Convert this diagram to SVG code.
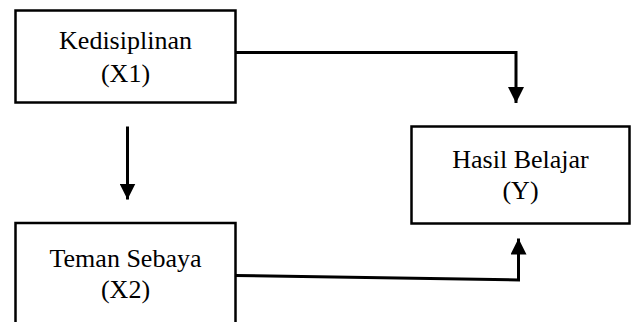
<svg xmlns="http://www.w3.org/2000/svg" width="631" height="322" viewBox="0 0 631 322">
  <style>
    .box { fill: #fff; stroke: #000; stroke-width: 2.5; }
    .lbl { font-family: "Liberation Serif", "Times New Roman", serif; font-size: 26px; fill: #000; text-anchor: middle; }
    .wire { fill: none; stroke: #000; stroke-width: 3; }
  </style>
  <defs>
    <marker id="head" markerWidth="16" markerHeight="16" viewBox="0 0 16 16" refX="16" refY="8" orient="auto" markerUnits="userSpaceOnUse">
      <path d="M0,0 L16,8 L0,16 Z" fill="#000"/>
    </marker>
  </defs>

  <rect width="631" height="322" fill="#fff"/>

  <g id="kedisiplinan">
    <rect class="box" x="15.5" y="10.5" width="220" height="92"/>
    <text class="lbl" x="125.5" y="49">Kedisiplinan</text>
    <text class="lbl" x="125.5" y="82">(X1)</text>
  </g>

  <g id="hasil-belajar">
    <rect class="box" x="411.5" y="126.5" width="218" height="97"/>
    <text class="lbl" x="520.5" y="168">Hasil Belajar</text>
    <text class="lbl" x="520.5" y="199">(Y)</text>
  </g>

  <g id="teman-sebaya">
    <rect class="box" x="15.5" y="223" width="220" height="110"/>
    <text class="lbl" x="125.5" y="266.5">Teman Sebaya</text>
    <text class="lbl" x="125.5" y="298">(X2)</text>
  </g>

  <g id="connectors">
    <polyline class="wire" points="235,52.5 516,52.5 516,103" marker-end="url(#head)"/>
    <line class="wire" x1="127.5" y1="126.5" x2="127.5" y2="199.5" marker-end="url(#head)"/>
    <polyline class="wire" points="235,275.5 518.5,280 518.5,238.5" marker-end="url(#head)"/>
  </g>
</svg>
